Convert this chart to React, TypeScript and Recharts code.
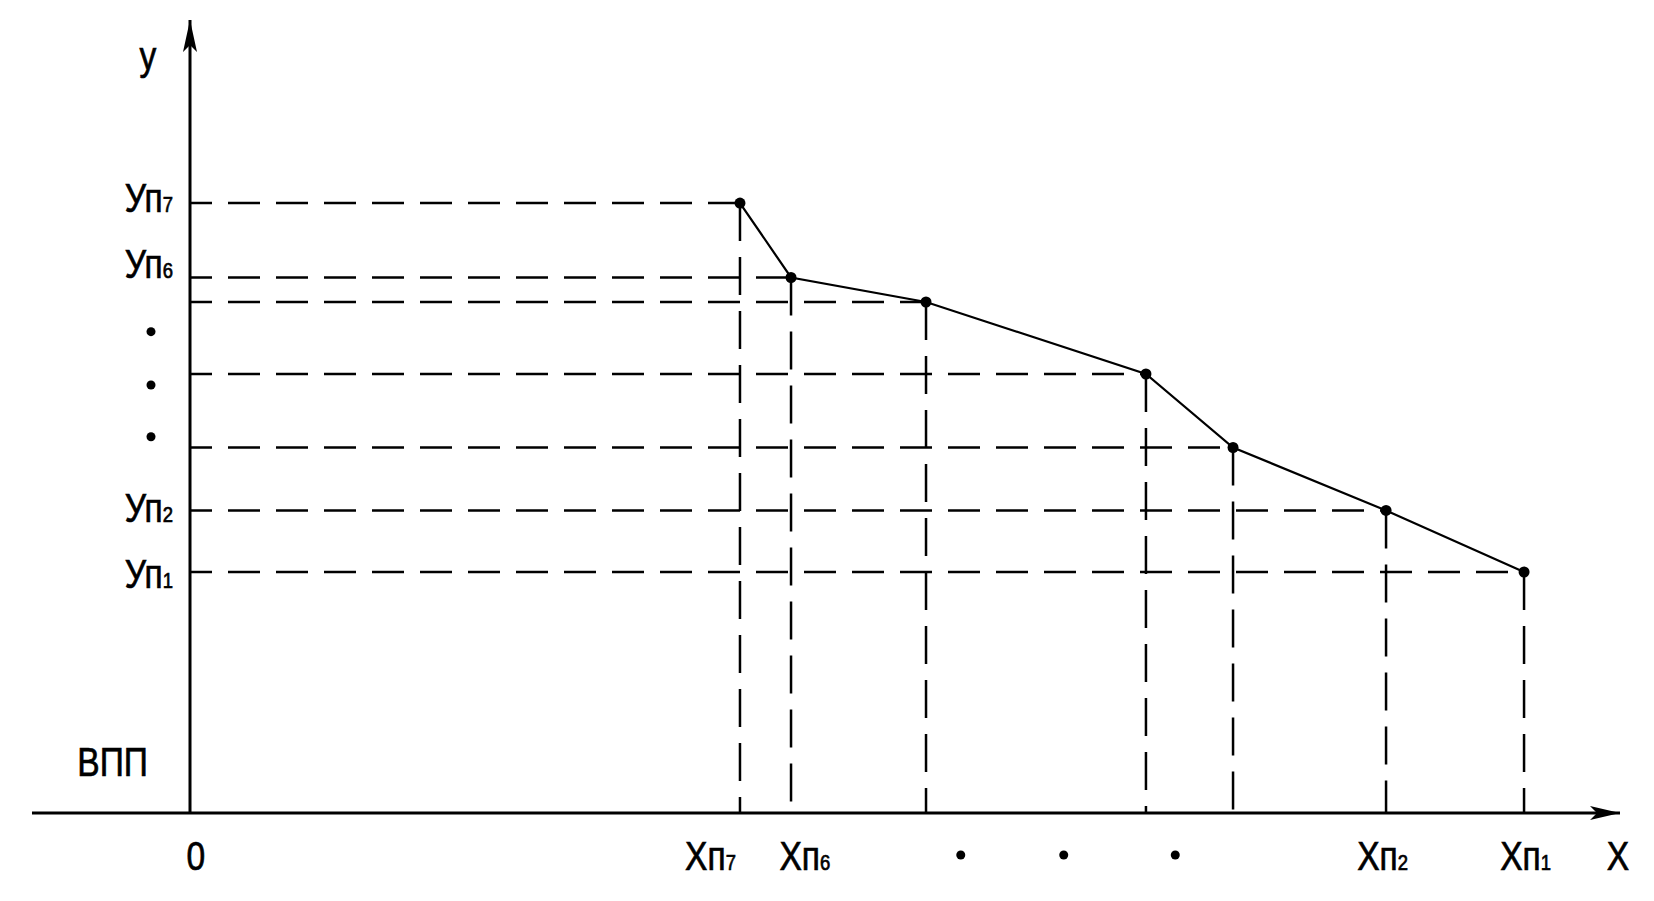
import { ComposedChart, Line, XAxis, YAxis, ReferenceLine, Scatter } from 'recharts';

// points of the profile, left to right (П7 ... П1)
const pointX = [38.46, 42.03, 51.47, 66.85, 72.94, 83.64, 93.29];
const pointY = [76.92, 67.53, 64.44, 55.36, 46.09, 38.15, 30.39];

// tick labels and where they sit
const xTickPos = [0.4, 36.4, 43.0, 53.9, 61.1, 68.9, 83.4, 93.4];
const xTickLabels = ['0', 'Хп7', 'Хп6', '•', '•', '•', 'Хп2', 'Хп1'];
const yTickPos = [77.55, 69.23, 60.7, 53.97, 47.45, 38.46, 30.14, 6.56];
const yTickLabels = ['Уп7', 'Уп6', '•', '•', '•', 'Уп2', 'Уп1', 'ВПП'];

const xName = 'Х';
const yName = 'у';
const xAxisStart = -11.05;
const xArrow = [{ x: 100, y: 0 }];
const yArrow = [{ x: 0, y: 100 }];

const points = pointX.map((x, i) => ({ x, y: pointY[i] }));

const FONT = "'Liberation Sans', Arial, sans-serif";
const INK = '#000';

// "Уп7" -> main text + small trailing digit; squeezed a bit like a narrow face
function LabelText({ text, x, y, anchor }: { text: string; x: number; y: number; anchor: string }) {
  const hasSub = text.length > 1 && /\d$/.test(text);
  const main = hasSub ? text.slice(0, -1) : text;
  const sub = hasSub ? text.slice(-1) : '';
  return (
    <g transform={`translate(${x},${y}) scale(0.84,1)`}>
      <text x={0} y={0} textAnchor={anchor} fontFamily={FONT} fontSize={40} fill={INK} stroke={INK} strokeWidth={0.7}>
        <tspan>{main}</tspan>
        {sub && <tspan fontSize={22}>{sub}</tspan>}
      </text>
    </g>
  );
}

const XTick = (props: any) => {
  const { x, y, payload } = props;
  const label = xTickLabels[xTickPos.indexOf(payload.value)];
  if (label === '•') return <circle cx={x} cy={y + 42} r={4.5} fill={INK} />;
  return <LabelText text={label} x={x} y={y + 57} anchor="middle" />;
};

const YTick = (props: any) => {
  const { x, y, payload } = props;
  const label = yTickLabels[yTickPos.indexOf(payload.value)];
  if (label === '•') return <circle cx={x - 39} cy={y} r={4.5} fill={INK} />;
  if (label === 'ВПП') return <LabelText text={label} x={x - 42} y={y + 15} anchor="end" />;
  return <LabelText text={label} x={x - 17} y={y + 14} anchor="end" />;
};

const XName = (props: any) => {
  const vb = props.viewBox;
  return <LabelText text={xName} x={vb.x + vb.width - 2} y={vb.y + 57} anchor="middle" />;
};

const YName = (props: any) => {
  const vb = props.viewBox;
  return <LabelText text={yName} x={vb.x + vb.width - 42} y={vb.y + 50} anchor="middle" />;
};

const PointDot = (props: any) => {
  const { cx, cy } = props;
  return <circle cx={cx} cy={cy} r={5.5} fill={INK} />;
};

const ArrowRight = (props: any) => {
  const { cx, cy } = props;
  return <polygon points={`${cx},${cy} ${cx - 30},${cy - 7} ${cx - 23},${cy} ${cx - 30},${cy + 7}`} fill={INK} />;
};

const ArrowUp = (props: any) => {
  const { cx, cy } = props;
  return <polygon points={`${cx},${cy} ${cx - 7},${cy + 32} ${cx},${cy + 25} ${cx + 7},${cy + 32}`} fill={INK} />;
};

export default function App() {
  return (
    <div style={{ position: 'absolute', left: 0, top: 0, background: '#fff' }}>
      <ComposedChart width={1654} height={901} data={points} margin={{ top: 20, right: 34, bottom: 0, left: 0 }}>
        <XAxis
          type="number"
          dataKey="x"
          domain={[0, 100]}
          ticks={xTickPos}
          interval={0}
          tick={<XTick />}
          tickLine={false}
          axisLine={false}
          tickSize={0}
          tickMargin={0}
          height={88}
          label={XName}
        />
        <YAxis
          type="number"
          domain={[0, 100]}
          ticks={yTickPos}
          interval={0}
          tick={<YTick />}
          tickLine={false}
          axisLine={{ stroke: INK, strokeWidth: 3 }}
          tickSize={0}
          tickMargin={0}
          width={190}
          label={YName}
        />

        {/* x axis, runs past the y axis to the left */}
        <ReferenceLine
          segment={[{ x: xAxisStart, y: 0 }, { x: 100, y: 0 }]}
          stroke={INK}
          strokeWidth={3}
          ifOverflow="visible"
        />

        {/* projections of each point onto the axes */}
        {points.map((p, i) => (
          <ReferenceLine
            key={`h${i}`}
            segment={[{ x: 0, y: p.y }, { x: p.x, y: p.y }]}
            stroke={INK}
            strokeWidth={2.5}
            strokeDasharray="32 16"
            strokeDashoffset={10}
            ifOverflow="visible"
          />
        ))}
        {points.map((p, i) => (
          <ReferenceLine
            key={`v${i}`}
            segment={[{ x: p.x, y: p.y }, { x: p.x, y: 0 }]}
            stroke={INK}
            strokeWidth={2.5}
            strokeDasharray="38 16"
            ifOverflow="visible"
          />
        ))}

        <Line
          type="linear"
          dataKey="y"
          stroke={INK}
          strokeWidth={2.2}
          dot={<PointDot />}
          activeDot={false}
          isAnimationActive={false}
        />

        <Scatter data={xArrow} dataKey="y" shape={<ArrowRight />} isAnimationActive={false} />
        <Scatter data={yArrow} dataKey="y" shape={<ArrowUp />} isAnimationActive={false} />
      </ComposedChart>
    </div>
  );
}
